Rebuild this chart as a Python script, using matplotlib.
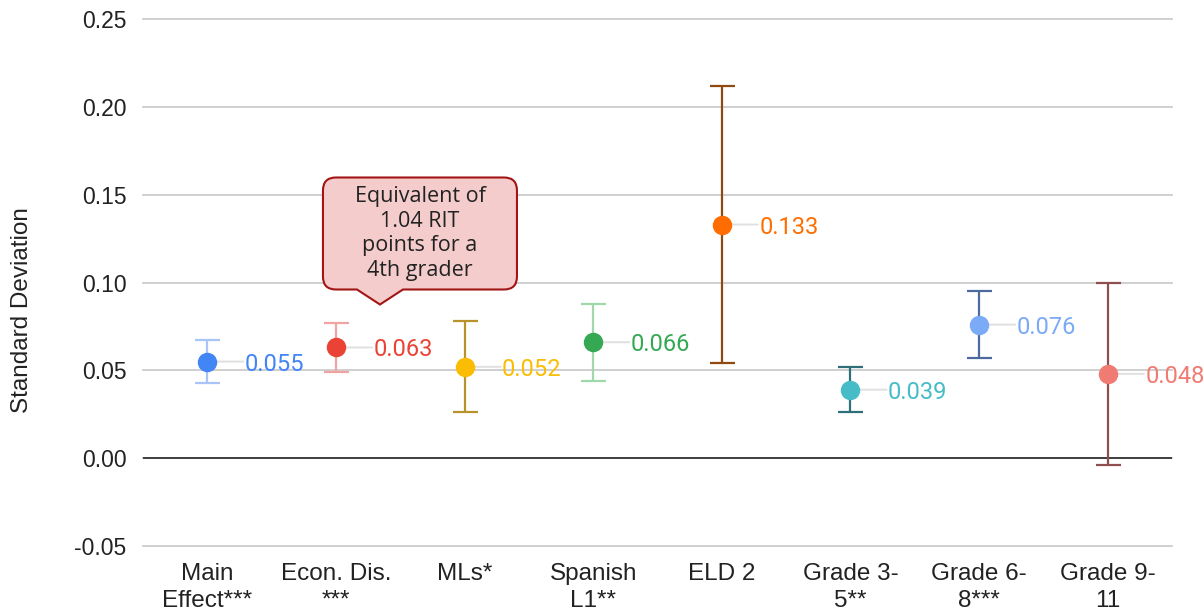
import matplotlib.pyplot as plt
from matplotlib.path import Path
from matplotlib.patches import PathPatch
from matplotlib.transforms import IdentityTransform

# effect sizes with confidence bounds
grupos = ["Main\nEffect***", "Econ. Dis.\n***", "MLs*", "Spanish\nL1**",
          "ELD 2", "Grade 3-\n5**", "Grade 6-\n8***", "Grade 9-\n11"]
efecto = [0.055, 0.063, 0.052, 0.066, 0.133, 0.039, 0.076, 0.048]
lim_sup = [0.067, 0.077, 0.078, 0.088, 0.212, 0.052, 0.095, 0.100]
lim_inf = [0.043, 0.049, 0.026, 0.044, 0.054, 0.026, 0.057, -0.004]
etiquetas = ["0.055", "0.063", "0.052", "0.066", "0.133", "0.039", "0.076", "0.048"]
nota = "Equivalent of\n1.04 RIT\npoints for a\n4th grader"

col_punto = ["#4285F4", "#EA4335", "#FBBC04", "#34A853",
             "#FF6D01", "#46BDC6", "#7BAAF7", "#F07B72"]
col_barra = ["#a9c4f7", "#f0a3a0", "#b8922a", "#9fd8a9",
             "#8e4a10", "#2f6f77", "#4c6a9e", "#8f4f4f"]

fig = plt.figure(figsize=(12.04, 6.13), dpi=100)
ax = fig.add_axes([0.1188, 0.1093, 0.8546, 0.8597])

for i in range(len(grupos)):
    ax.errorbar(i, efecto[i],
                yerr=[[efecto[i] - lim_inf[i]], [lim_sup[i] - efecto[i]]],
                fmt="none", ecolor=col_barra[i], elinewidth=1.6,
                capsize=9, capthick=1.6, zorder=3)
    ax.plot(i, efecto[i], "o", color=col_punto[i], markersize=13, zorder=4)
    # thin leader from the dot to its value
    ax.annotate("", xy=(i, efecto[i]), xytext=(26, 0), textcoords="offset points",
                arrowprops=dict(arrowstyle="-", color="#e0e0e0", lw=1.4,
                                shrinkA=0, shrinkB=7), zorder=2)
    ax.annotate(etiquetas[i], xy=(i, efecto[i]), xytext=(27, 0),
                textcoords="offset points", va="center_baseline", ha="left",
                fontsize=17, family="Roboto", color=col_punto[i], zorder=2)

ax.set_xlim(-0.5, len(grupos) - 0.5)
ax.set_ylim(-0.05, 0.25)
ax.set_yticks([-0.05, 0.00, 0.05, 0.10, 0.15, 0.20, 0.25])
ax.set_yticklabels(["-0.05", "0.00", "0.05", "0.10", "0.15", "0.20", "0.25"])
ax.set_xticks(range(len(grupos)))
ax.set_xticklabels(grupos, linespacing=1.3)
ax.tick_params(axis="both", length=0, labelcolor="#222222")
ax.tick_params(axis="y", pad=12, labelsize=16.5)
ax.tick_params(axis="x", pad=12, labelsize=17.5)
for lab in ax.get_xticklabels() + ax.get_yticklabels():
    lab.set_family("Liberation Sans")
ax.yaxis.grid(True, color="#cccccc", lw=1.3, clip_on=False)
ax.set_axisbelow(True)
ax.axhline(0, color="#333333", lw=1.3, zorder=1)
for s in ax.spines.values():
    s.set_visible(False)
ax.set_ylabel("Standard Deviation", fontsize=17.5, family="Liberation Sans",
              color="#222222")
ax.yaxis.set_label_coords(-0.107, 0.448)

# speech-bubble note above the Econ. Dis. point
px, py = ax.transData.transform((1, efecto[1]))
x0, x1 = px - 13, px + 181
y0, y1 = py + 58, py + 170
r = 13
tx, ty, hw = px + 44, py + 43, 23
verts = [(x0 + r, y0), (tx - hw, y0), (tx, ty), (tx + hw, y0), (x1 - r, y0),
         (x1, y0), (x1, y0 + r), (x1, y1 - r), (x1, y1), (x1 - r, y1),
         (x0 + r, y1), (x0, y1), (x0, y1 - r), (x0, y0 + r), (x0, y0),
         (x0 + r, y0), (x0 + r, y0)]
codes = [Path.MOVETO, Path.LINETO, Path.LINETO, Path.LINETO, Path.LINETO,
         Path.CURVE3, Path.CURVE3, Path.LINETO, Path.CURVE3, Path.CURVE3,
         Path.LINETO, Path.CURVE3, Path.CURVE3, Path.LINETO, Path.CURVE3,
         Path.CURVE3, Path.CLOSEPOLY]
burbuja = PathPatch(Path(verts, codes), facecolor="#f4cccc", edgecolor="#a31515",
                    lw=1.5, transform=IdentityTransform(), zorder=5)
fig.add_artist(burbuja)
fig.text((x0 + x1) / 2, (y0 + y1) / 2, nota, transform=IdentityTransform(),
         ha="center", va="center", fontsize=15.5, family="Open Sans",
         color="#222222", linespacing=1.22, zorder=6)

plt.savefig("out.png", dpi=100)
